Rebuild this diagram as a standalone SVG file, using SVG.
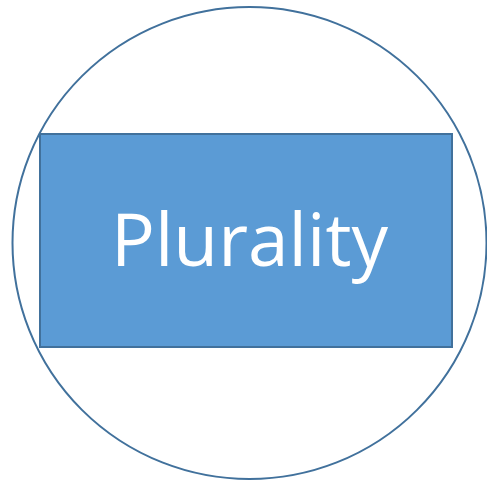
<svg xmlns="http://www.w3.org/2000/svg" width="487" height="480" viewBox="0 0 487 480">
<style>
.outline{fill:none;stroke:#41719c;stroke-width:2}
.box{fill:#5b9bd5;stroke:#41719c;stroke-width:2}
.lbl{font-family:"Open Sans","Liberation Sans",sans-serif;font-size:73px;fill:#ffffff;text-anchor:middle}
</style>
<g id="circle"><ellipse class="outline" cx="249.5" cy="243" rx="237" ry="236"/></g>
<g id="plurality">
<rect class="box" x="40" y="134" width="412" height="213"/>
<text class="lbl" x="249.5" y="266">Plurality</text>
</g>
<g id="connectors"/>
</svg>
